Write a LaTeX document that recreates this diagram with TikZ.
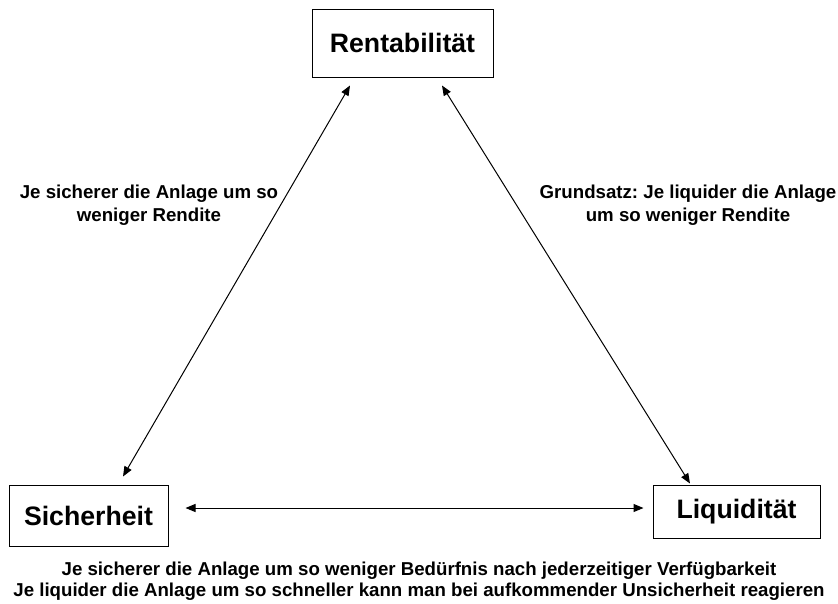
\documentclass[tikz,border=0pt]{standalone}
\usepackage{fontspec}
\setmainfont{Liberation Sans}
\usepackage{tikz}
\usetikzlibrary{arrows.meta}
\frenchspacing

\begin{document}
\begin{tikzpicture}[x=.75pt,y=-.75pt,line width=.75pt,
    >={Triangle[length=7.5pt,width=6pt]},
    box/.style={draw,inner sep=0pt,font=\fontsize{20}{24}\selectfont\bfseries},
    note/.style={align=center,inner sep=0pt,font=\fontsize{14}{17.25}\selectfont\bfseries}]
  \useasboundingbox (0,0) rectangle (838,603);
  \node (re) [box,minimum width=135.75pt,minimum height=51pt] at (402.5,43) {Rentabilität};
  \node (si) [box,minimum width=119.25pt,minimum height=45.75pt] at (88.5,515.5) {Sicherheit};
  \node (li) [box,minimum width=125.25pt,minimum height=39.75pt] at (736.5,511.5) {Liquidität};
  \path (node cs:name=re,anchor=south) +(-52.5,8) coordinate (rel) {};
  \path (node cs:name=re,anchor=south) +(39.5,8) coordinate (rer) {};
  \path (node cs:name=si,anchor=north) +(34.5,-8) coordinate (sit) {};
  \path (node cs:name=li,anchor=north) +(-46.5,-1) coordinate (lit) {};
  \path (node cs:name=si,anchor=east) +(17,-7.5) coordinate (sir) {};
  \path (node cs:name=li,anchor=west) +(-9,-3.5) coordinate (lil) {};
  \draw[<->] (rel) -- (sit);
  \draw[<->] (rer) -- (lit);
  \draw[<->] (sir) -- (lil);
  \node (sr) [note] at (149,205) {Je sicherer die Anlage um so\\weniger Rendite};
  \node (lr) [note] at (688,205) {Grundsatz: Je liquider die Anlage\\um so weniger Rendite};
  \node (sl) [note,font=\fontsize{14}{15.75}\selectfont\bfseries] at (419,581.5)
    {Je sicherer die Anlage um so weniger Bedürfnis nach jederzeitiger Verfügbarkeit\\
     Je liquider die Anlage um so schneller kann man bei aufkommender Unsicherheit reagieren};
\end{tikzpicture}
\end{document}
